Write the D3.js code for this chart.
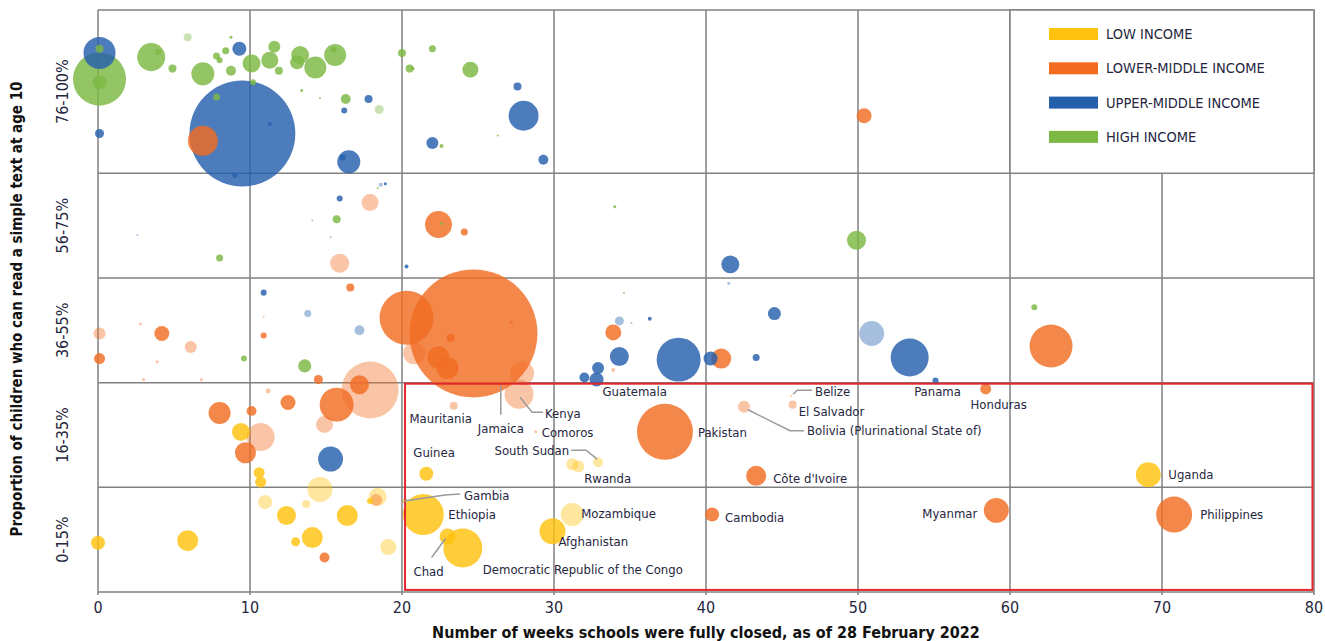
<!DOCTYPE html>
<html>
<head>
<meta charset="utf-8">
<script src="https://cdn.jsdelivr.net/npm/d3@7"></script>
<style>
  body { margin: 0; background: #fff; }
  svg text { font-family: "Liberation Sans Narrow", "DejaVu Sans Condensed", "Arial Narrow", sans-serif; font-stretch: condensed; }
</style>
</head>
<body>
<svg id="chart"></svg>
<script>
const X_TICKS = [0, 10, 20, 30, 40, 50, 60, 70, 80];
const Y_BANDS = ["0-15%", "16-35%", "36-55%", "56-75%", "76-100%"];
const INCOME_GROUPS = ["LOW INCOME", "LOWER-MIDDLE INCOME", "UPPER-MIDDLE INCOME", "HIGH INCOME"];

// [weeks fully closed, reading band (1 unit per band), school-age pop (millions), estimate?, country]
const lowIncome = [
  [9.4, 1.53, 4.9, 0], [10.6, 1.14, 1.85, 0], [10.7, 1.05, 1.85, 0],
  [14.6, 0.98, 9.5, 1], [11.0, 0.86, 3.0, 1], [13.7, 0.84, 1.0, 1],
  [12.4, 0.73, 5.5, 0], [16.4, 0.73, 6.7, 0], [14.1, 0.52, 6.7, 0],
  [13.0, 0.48, 1.2, 0], [19.1, 0.43, 3.9, 1], [18.4, 0.91, 4.9, 1],
  [17.9, 0.87, 0.55, 0], [0.0, 0.47, 3.0, 0], [5.9, 0.49, 6.7, 0],
  [21.6, 1.13, 3.0, 0, "Guinea"],
  [20.2, 0.87, 0.3, 0, "Gambia"],
  [21.4, 0.74, 25.6, 0, "Ethiopia"],
  [23.0, 0.53, 3.9, 0, "Chad"],
  [24.0, 0.42, 23.2, 0, "Democratic Republic of the Congo"],
  [31.2, 0.74, 8.1, 1, "Mozambique"],
  [29.9, 0.58, 10.3, 0, "Afghanistan"],
  [69.1, 1.12, 9.5, 0, "Uganda"],
  [32.9, 1.24, 1.5, 1, "South Sudan"],
  [31.2, 1.22, 2.2, 1, "Rwanda"],
  [31.6, 1.20, 2.2, 1]
];

const lowerMiddleIncome = [
  [6.9, 4.31, 13.7, 0], [50.4, 4.55, 3.4, 0], [17.9, 3.72, 4.4, 1],
  [22.4, 3.51, 11.1, 0], [24.1, 3.44, 0.75, 0], [15.9, 3.14, 5.5, 1],
  [0.1, 2.47, 2.2, 1], [0.1, 2.23, 1.85, 0], [2.8, 2.56, 0.14, 1],
  [4.2, 2.47, 3.4, 0], [6.1, 2.34, 2.2, 1], [3.9, 2.20, 0.14, 1],
  [10.9, 2.63, 0.06, 1], [10.9, 2.45, 0.55, 0], [3.0, 2.03, 0.14, 1],
  [6.8, 2.03, 0.14, 1], [11.2, 1.92, 0.38, 1], [8.0, 1.71, 7.4, 0],
  [10.1, 1.73, 1.5, 0], [16.6, 2.91, 0.98, 0], [14.5, 2.03, 1.24, 0],
  [17.9, 1.93, 49.5, 1], [17.2, 1.98, 5.5, 0], [15.7, 1.79, 17.6, 0],
  [20.3, 2.62, 44.5, 0], [24.7, 2.47, 250, 0], [20.8, 2.28, 7.4, 1],
  [22.4, 2.24, 7.4, 0], [23.0, 2.14, 7.4, 0], [23.2, 2.43, 0.98, 0],
  [27.2, 2.58, 0.14, 0], [27.9, 2.09, 8.8, 1],
  [27.7, 1.89, 12.8, 1, "Kenya"],
  [23.4, 1.78, 0.98, 1, "Mauritania"],
  [28.8, 1.53, 0.14, 1, "Comoros"],
  [12.5, 1.81, 3.4, 0], [14.9, 1.60, 4.4, 1], [10.7, 1.48, 12, 1],
  [9.7, 1.33, 6.7, 0], [33.9, 2.48, 3.9, 0], [33.9, 2.12, 0.24, 1],
  [41.0, 2.23, 6.1, 0], [62.7, 2.35, 28.2, 0],
  [58.4, 1.94, 1.85, 0, "Honduras"],
  [37.3, 1.53, 47.8, 0, "Pakistan"],
  [42.5, 1.77, 2.2, 1, "Bolivia (Plurinational State of)"],
  [45.7, 1.79, 0.98, 1, "El Salvador"],
  [45.6, 1.87, 0.06, 1, "Belize"],
  [43.3, 1.11, 6.1, 0, "Côte d'Ivoire"],
  [40.4, 0.74, 3.0, 0, "Cambodia"],
  [59.1, 0.78, 9.5, 0, "Myanmar"],
  [70.8, 0.74, 19.8, 0, "Philippines"],
  [14.9, 0.33, 1.5, 0], [18.3, 0.88, 2.2, 1]
];

const upperMiddleIncome = [
  [0.1, 5.15, 15.6, 0], [9.3, 5.19, 3.0, 0], [17.8, 4.71, 0.98, 0],
  [16.2, 4.60, 0.55, 0], [0.1, 4.38, 1.24, 0], [9.5, 4.38, 171, 0],
  [11.3, 4.47, 0.24, 0], [9.0, 3.98, 0.38, 0], [16.5, 4.11, 8.1, 0],
  [16.1, 4.15, 0.55, 0], [27.6, 4.83, 0.98, 0], [28.0, 4.55, 13.7, 0],
  [22.0, 4.29, 2.2, 0], [29.3, 4.13, 1.5, 0], [18.6, 3.89, 0.24, 1],
  [18.9, 3.90, 0.14, 0], [15.9, 3.76, 0.55, 0], [14.1, 3.55, 0.06, 1],
  [15.3, 3.39, 0.06, 1], [2.6, 3.41, 0.06, 1], [20.3, 3.11, 0.24, 0],
  [41.6, 3.13, 4.9, 0], [41.5, 2.95, 0.14, 1], [34.3, 2.59, 1.24, 1],
  [35.1, 2.57, 0.06, 1], [36.3, 2.61, 0.24, 0], [44.5, 2.66, 2.6, 0],
  [50.9, 2.47, 9.5, 1], [34.3, 2.25, 5.5, 0], [32.9, 2.14, 2.2, 0],
  [38.2, 2.22, 29.5, 0], [40.3, 2.23, 3.0, 0], [43.3, 2.24, 0.75, 0],
  [53.4, 2.24, 22, 0],
  [55.1, 2.02, 0.55, 0, "Panama"],
  [32.0, 2.05, 1.5, 0],
  [32.8, 2.03, 3.0, 0, "Guatemala"],
  [10.9, 2.86, 0.55, 0], [13.8, 2.66, 0.75, 1], [17.2, 2.50, 1.5, 1],
  [15.3, 1.27, 9.5, 0],
  [26.5, 1.99, 0.03, 0, "Jamaica"]
];

const highIncome = [
  [0.1, 5.19, 0.98, 0], [0.1, 4.90, 43, 0], [0.1, 4.87, 3.0, 0],
  [5.9, 5.30, 0.98, 1], [8.75, 5.30, 0.14, 0], [3.5, 5.11, 12, 0],
  [3.95, 5.16, 0.55, 0], [4.9, 5.00, 0.98, 0], [6.9, 4.95, 8.1, 0],
  [7.8, 5.12, 0.75, 0], [8.0, 5.08, 0.55, 0], [8.4, 5.17, 0.75, 0],
  [8.75, 4.98, 1.5, 0], [10.1, 5.05, 4.9, 0], [11.6, 5.21, 2.2, 0],
  [11.3, 5.08, 4.4, 0], [11.9, 4.98, 0.98, 0], [13.3, 5.13, 4.9, 0],
  [13.1, 5.06, 3.0, 0], [14.3, 5.01, 7.4, 0], [15.6, 5.13, 7.4, 0],
  [15.5, 5.18, 0.55, 0], [13.4, 4.79, 0.14, 0], [14.6, 4.72, 0.06, 0],
  [16.3, 4.71, 1.5, 0], [18.5, 4.61, 1.24, 1], [7.8, 4.73, 0.75, 0],
  [10.2, 4.87, 0.55, 0], [20.0, 5.15, 0.98, 0], [22.0, 5.19, 0.75, 0],
  [20.5, 5.00, 0.98, 0], [20.7, 5.00, 0.24, 0], [24.5, 4.99, 3.9, 0],
  [26.3, 4.36, 0.06, 0], [22.6, 4.26, 0.24, 0], [18.4, 3.86, 0.06, 0],
  [15.7, 3.56, 0.98, 0], [22.6, 3.52, 0.14, 0], [34.0, 3.68, 0.14, 0],
  [49.9, 3.36, 5.5, 0], [8.0, 3.19, 0.75, 0], [34.6, 2.86, 0.06, 0],
  [9.6, 2.23, 0.55, 0], [13.6, 2.16, 2.6, 0], [61.6, 2.72, 0.55, 0]
];

const COLORS = ["#FFC20E", "#F26C22", "#245FAC", "#7DB843"];

// label placement, pixel offsets from the bubble centre
const LABELS = {
  "Guatemala": { dx: 6, dy: 12 },
  "Belize": { dx: 24, dy: -5, leader: [[2, -2], [6, -6], [21, -6]] },
  "El Salvador": { dx: 6, dy: 7 },
  "Bolivia (Plurinational State of)": { dx: 63, dy: 24, leader: [[4, 3], [46, 24], [60, 24]] },
  "Panama": { dx: 2, dy: 11, anchor: "middle" },
  "Honduras": { dx: 13, dy: 16, anchor: "middle" },
  "Mauritania": { dx: -13, dy: 13, anchor: "middle" },
  "Jamaica": { dx: 0, dy: 45, anchor: "middle", leader: [[0, 2], [0, 31]] },
  "Kenya": { dx: 26, dy: 19, leader: [[1, 3], [13, 18], [24, 18]] },
  "Comoros": { dx: 6, dy: 1 },
  "South Sudan": { dx: -29, dy: -12, anchor: "end", leader: [[-27, -12], [-12, -12], [-1, -3]] },
  "Rwanda": { dx: 12, dy: 14 },
  "Guinea": { dx: -13, dy: -21 },
  "Gambia": { dx: 59, dy: -5, leader: [[-1, 0], [40, -6], [55, -7]] },
  "Ethiopia": { dx: 25, dy: 0 },
  "Chad": { dx: -19, dy: 35, anchor: "middle", leader: [[-2, 2], [-16, 21]] },
  "Democratic Republic of the Congo": { dx: 20, dy: 21 },
  "Mozambique": { dx: 9, dy: -1 },
  "Afghanistan": { dx: 6, dy: 10 },
  "Pakistan": { dx: 33, dy: 1 },
  "Côte d'Ivoire": { dx: 17, dy: 3 },
  "Cambodia": { dx: 13, dy: 3 },
  "Uganda": { dx: 20, dy: 0 },
  "Myanmar": { dx: -19, dy: 3, anchor: "end" },
  "Philippines": { dx: 26, dy: 0 }
};

const WIDTH = 1325,
  HEIGHT = 641;
const PLOT = { left: 98, right: 1314, top: 10, bottom: 592 };
const GRID = "#808080",
  TEXT = "#262640";

const svg = d3.select("#chart").attr("width", WIDTH).attr("height", HEIGHT);

const x = d3.scaleLinear().domain([0, 80]).range([PLOT.left, PLOT.right]);
const y = d3.scaleLinear().domain([0, 5.56]).range([PLOT.bottom, PLOT.top]);
const r = d3.scaleSqrt().domain([0, 250]).range([0, 64]);

// grid
const grid = svg.append("g").attr("stroke", GRID).attr("stroke-width", 1.5);
grid.selectAll("line.v")
  .data(X_TICKS)
  .enter()
  .append("line")
  .attr("x1", d => x(d))
  .attr("x2", d => x(d))
  .attr("y1", PLOT.top)
  .attr("y2", PLOT.bottom + 3);
grid.selectAll("line.h")
  .data([0, 1, 2, 3, 4, 5.56])
  .enter()
  .append("line")
  .attr("x1", PLOT.left)
  .attr("x2", PLOT.right)
  .attr("y1", d => y(d))
  .attr("y2", d => y(d));

// x tick labels
svg.append("g")
  .selectAll("text")
  .data(X_TICKS)
  .enter()
  .append("text")
  .attr("x", d => x(d))
  .attr("y", 607)
  .attr("dy", "0.35em")
  .attr("text-anchor", "middle")
  .attr("font-size", 16)
  .attr("fill", TEXT)
  .text(d => d);

// y band labels
svg.append("g")
  .selectAll("text")
  .data(Y_BANDS)
  .enter()
  .append("text")
  .attr("transform", (d, i) => {
    const top = i === 4 ? 5.56 : i + 1;
    return `translate(62,${y((i + top) / 2)}) rotate(-90)`;
  })
  .attr("dy", "0.35em")
  .attr("text-anchor", "middle")
  .attr("font-size", 16)
  .attr("fill", TEXT)
  .text(d => d);

// axis titles
svg.append("text")
  .attr("x", (PLOT.left + PLOT.right) / 2)
  .attr("y", 632)
  .attr("dy", "0.35em")
  .attr("text-anchor", "middle")
  .attr("font-size", 16)
  .attr("font-weight", "bold")
  .attr("fill", "#111")
  .text("Number of weeks schools were fully closed, as of 28 February 2022");

svg.append("text")
  .attr("transform", `translate(17,${(PLOT.top + PLOT.bottom) / 2 + 8}) rotate(-90)`)
  .attr("dy", "0.35em")
  .attr("text-anchor", "middle")
  .attr("font-size", 15)
  .attr("font-weight", "bold")
  .attr("fill", "#111")
  .text("Proportion of children who can read a simple text at age 10");

// legend panel covers the top-right cell
const legend = svg.append("g");
legend.append("rect")
  .attr("x", x(60))
  .attr("y", y(5.56))
  .attr("width", x(80) - x(60))
  .attr("height", y(4) - y(5.56))
  .attr("fill", "#fff")
  .attr("stroke", GRID)
  .attr("stroke-width", 1.5);
const item = legend.selectAll("g.item")
  .data(INCOME_GROUPS)
  .enter()
  .append("g")
  .attr("transform", (d, i) => `translate(${x(60) + 39},${34 + i * 34.3})`);
item.append("rect")
  .attr("x", 0)
  .attr("y", -6)
  .attr("width", 49)
  .attr("height", 12)
  .attr("fill", (d, i) => COLORS[i]);
item.append("text")
  .attr("x", 57)
  .attr("dy", "0.35em")
  .attr("font-size", 14.5)
  .attr("fill", TEXT)
  .text(d => d);

// bubbles
const bubbles = [lowIncome, lowerMiddleIncome, upperMiddleIncome, highIncome]
  .flatMap((rows, g) =>
    rows.map(([weeks, level, pop, est, name]) => ({ weeks, level, pop, est, name, g }))
  )
  .sort((a, b) => b.pop - a.pop);

svg.append("g")
  .selectAll("circle")
  .data(bubbles)
  .enter()
  .append("circle")
  .attr("cx", d => x(d.weeks))
  .attr("cy", d => y(d.level))
  .attr("r", d => Math.max(r(d.pop), 0.8))
  .attr("fill", d => COLORS[d.g])
  .attr("fill-opacity", d => (d.est ? 0.4 : 0.82));

// highlighted zone
svg.append("rect")
  .attr("x", x(20.2))
  .attr("y", y(1.99))
  .attr("width", x(79.9) - x(20.2))
  .attr("height", y(0.02) - y(1.99))
  .attr("fill", "none")
  .attr("stroke", "#E3262E")
  .attr("stroke-width", 2);

// country labels
const named = bubbles.filter(d => d.name);
const ann = svg.append("g");
ann.selectAll("polyline")
  .data(named.filter(d => LABELS[d.name].leader))
  .enter()
  .append("polyline")
  .attr("points", d =>
    LABELS[d.name].leader.map(([dx, dy]) => [x(d.weeks) + dx, y(d.level) + dy].join(",")).join(" ")
  )
  .attr("fill", "none")
  .attr("stroke", "#9a9a9a")
  .attr("stroke-width", 1.5);
ann.selectAll("text")
  .data(named)
  .enter()
  .append("text")
  .attr("x", d => x(d.weeks) + LABELS[d.name].dx)
  .attr("y", d => y(d.level) + LABELS[d.name].dy)
  .attr("dy", "0.35em")
  .attr("text-anchor", d => LABELS[d.name].anchor || "start")
  .attr("font-size", 13)
  .attr("fill", TEXT)
  .text(d => d.name);
</script>
</body>
</html>
